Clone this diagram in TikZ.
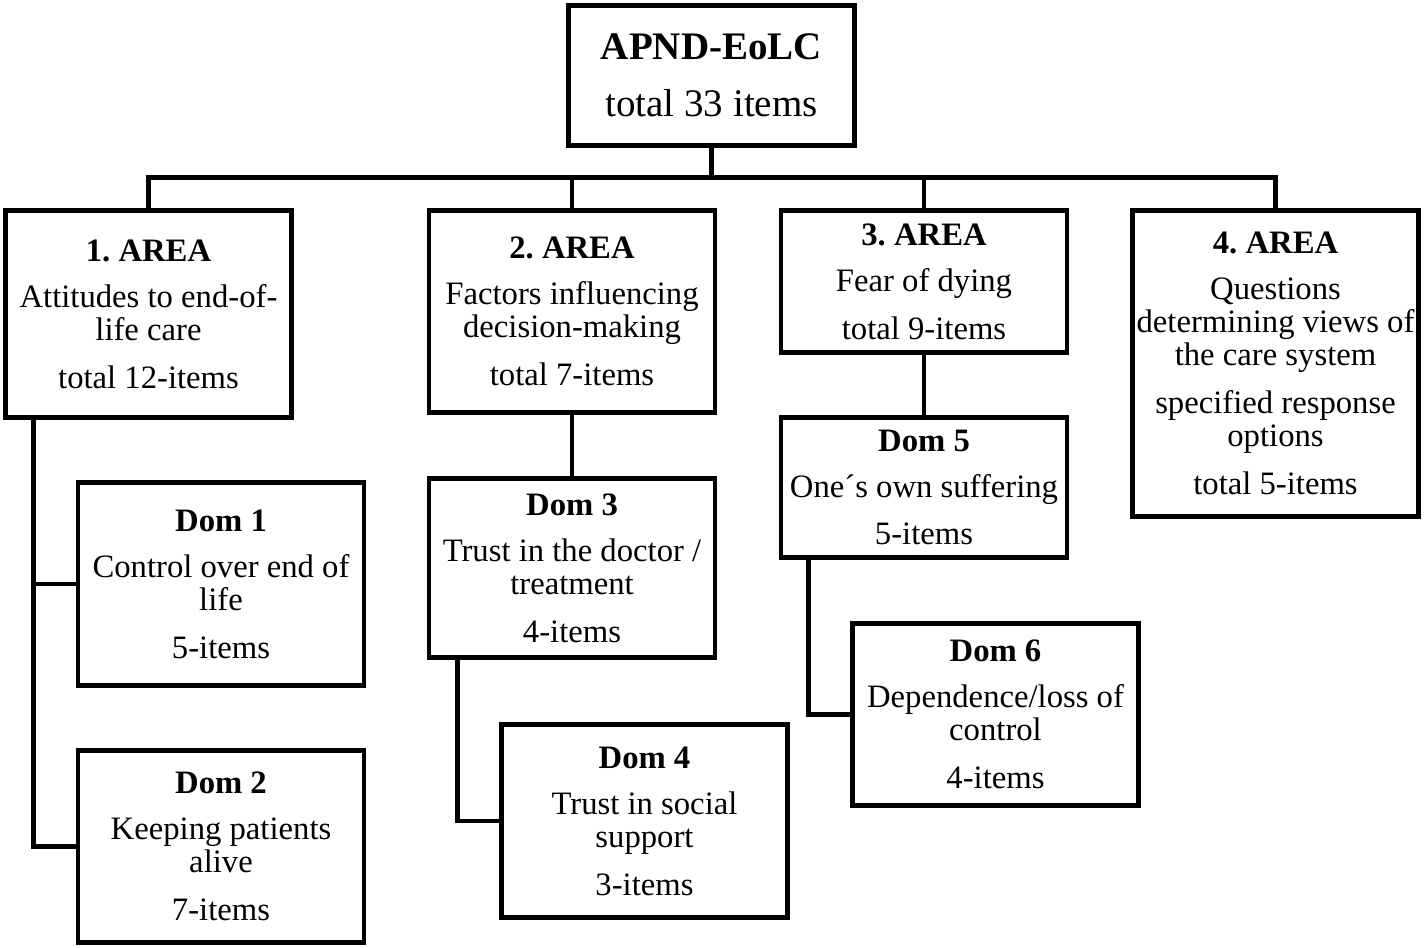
\documentclass[tikz,border=0pt]{standalone}
\usepackage{fontspec}
\setmainfont{Liberation Serif}
\frenchspacing
\usetikzlibrary{positioning}
\tikzstyle{every node}=[font=\fontsize{9.3}{9.4}\selectfont]
\tikzstyle{every path}=[line width=1.4pt,line cap=rect,line join=miter]
\tikzstyle{box}=[draw,align=center,inner sep=0pt,minimum width=2.86cm]
\newcommand{\gapA}{\\[3.7pt]}
\newcommand{\gapB}{\\[4.2pt]}

\begin{document}
\begin{tikzpicture}
  \useasboundingbox (0,0) rectangle (14.24,-9.48);
  % root
  \node[box,minimum height=1.40cm,font=\fontsize{11.1}{11.2}\selectfont] (top) at (7.115,-0.755)
    {\textbf{APND-EoLC}\\[5pt]total 33 items};
  % areas
  \node[box,minimum height=2.07cm] (a1) at (1.485,-3.14)
    {\textbf{1. AREA}\gapA Attitudes to end-of-\\life care\gapB total 12-items};
  \node[box,minimum height=2.02cm] (a2) at (5.72,-3.115)
    {\textbf{2. AREA}\gapA Factors influencing\\decision-making\gapB total 7-items};
  \node[box,minimum height=1.42cm] (a3) at (9.24,-2.815)
    {\textbf{3. AREA}\gapA Fear of dying\gapB total 9-items};
  \node[box,minimum height=3.06cm] (a4) at (12.755,-3.635)
    {\textbf{4. AREA}\gapA Questions\\determining views of\\the care system\gapB specified response\\options\gapB total 5-items};
  % domains
  \node[box,minimum height=2.03cm] (d1) at (2.21,-5.84)
    {\textbf{Dom 1}\gapA Control over end of\\life\gapB 5-items};
  \node[box,minimum height=1.92cm] (d2) at (2.21,-8.465)
    {\textbf{Dom 2}\gapA Keeping patients\\alive\gapB 7-items};
  \node[box,minimum height=1.79cm] (d3) at (5.72,-5.68)
    {\textbf{Dom 3}\gapA Trust in the doctor /\\treatment\gapB 4-items};
  \node[box,minimum height=1.93cm] (d4) at (6.445,-8.21)
    {\textbf{Dom 4}\gapA Trust in social\\support\gapB 3-items};
  \node[box,minimum height=1.40cm] (d5) at (9.24,-4.875)
    {\textbf{Dom 5}\gapA One´s own suffering\gapB 5-items};
  \node[box,minimum height=1.82cm] (d6) at (9.955,-7.145)
    {\textbf{Dom 6}\gapA Dependence/loss of\\control\gapB 4-items};

  % connectors
  \draw (top.south) -- ++(0,-0.30) coordinate (bus);
  \draw (a1.north) |- (a4.north |- bus) -- (a4.north);
  \foreach \n in {a2,a3} \draw (\n.north) -- (\n.north |- bus);
  \draw ([xshift=0.30cm]a1.south west) coordinate (t1) |- (d2.west);
  \draw (d1.west) -- (d1.west -| t1);
  \draw (a2.south) -- (d3.north);
  \draw ([xshift=0.31cm]d3.south west) |- (d4.west);
  \draw (a3.south) -- (d5.north);
  \draw ([xshift=0.30cm]d5.south west) |- (d6.west);
\end{tikzpicture}
\end{document}
